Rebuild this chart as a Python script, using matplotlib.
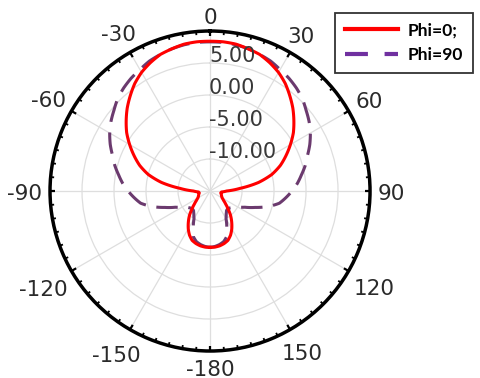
import numpy as np
import matplotlib
matplotlib.use('Agg')
import matplotlib.pyplot as plt
from matplotlib.lines import Line2D

# angles (deg) from 0 to 180, pattern is symmetric about 0
half_angles = list(range(0, 181, 5))
phi0_half = [8.4, 8.4, 8.3, 8.0, 7.7, 7.1, 6.4, 5.5, 4.4, 3.3, 2.1, 0.9, -0.5, -1.9,
             -3.3, -5.0, -7.3, -10.3, -12.4, -13.2, -13.3, -13.2, -13.1, -13.0, -12.8,
             -12.4, -11.8, -11.0, -10.0, -9.1, -8.2, -7.4, -6.8, -6.5, -6.3, -6.2, -6.2]
phi90_half = [8.3, 8.3, 8.2, 8.0, 7.7, 7.4, 6.9, 6.5, 6.0, 5.4, 4.6, 3.9, 3.1, 2.2,
              1.2, 0.4, -0.5, -1.3, -2.2, -3.1, -4.0, -5.6, -7.5, -9.0, -10.0, -10.6,
              -10.9, -11.1, -11.0, -10.6, -10.0, -8.8, -7.4, -6.8, -6.5, -6.3, -6.2]

labels = ['Phi=0;', 'Phi=90']
r_ticks = [-10, -5, 0, 5]
r_labels = ['-10.00', '-5.00', '0.00', '5.00']
theta_ticks = [0, 30, 60, 90, 120, 150, 180, 210, 240, 270, 300, 330]
theta_labels = ['0', '30', '60', '90', '120', '150', '-180', '-150', '-120', '-90', '-60', '-30']

# mirror the half pattern to cover the full circle
ang = np.array([-a for a in half_angles[::-1]] + half_angles[1:])
phi0 = np.array(phi0_half[::-1] + phi0_half[1:])
phi90 = np.array(phi90_half[::-1] + phi90_half[1:])

plt.rcParams['font.family'] = ['DejaVu Sans']

fig = plt.figure(figsize=(4.8, 3.78), dpi=100)
ax = fig.add_axes([0.1042, 0.0714, 0.6667, 0.8466], projection='polar')
ax.set_theta_zero_location('N')
ax.set_theta_direction(-1)
ax.set_rlim(-15, 10)

l90, = ax.plot(np.deg2rad(ang), phi90, color='#6b3a6e', lw=2.2, dashes=(7, 3.5))
l0, = ax.plot(np.deg2rad(ang), phi0, color='#ff0000', lw=2.2)
# draw segments as curves in polar space
for ln in (l90, l0):
    ln.get_path()._interpolation_steps = 8

ax.set_yticks(r_ticks)
ax.set_yticklabels([])
for r, lab in zip(r_ticks, r_labels):
    ax.annotate(lab, xy=(0, r), xytext=(-1, 1), textcoords='offset pixels',
                ha='left', va='baseline', fontsize=15, color='#383838')

ax.set_xticks(np.deg2rad(theta_ticks))
ax.set_xticklabels([])
ax.tick_params(axis='x', which='both', bottom=False, top=False)
ax.grid(True, color='#dedede', lw=0.9)
ax.spines['polar'].set_linewidth(2.5)
ax.spines['polar'].set_color('black')

# inward tick marks on the rim (matplotlib's polar ticks only point outwards)
rmax = ax.get_rmax()
minor = np.arange(0, 360, 5)
minor = minor[minor % 30 != 0]
ax.vlines(np.deg2rad(minor), rmax - 0.55, rmax, colors='black', lw=1.3, clip_on=False)
ax.vlines(np.deg2rad(theta_ticks), rmax - 0.85, rmax, colors='black', lw=1.6, clip_on=False)

# angle labels: sit a fixed gap outside the rim, pushed out by their own half size
fs = 15.5
em = fs * 100 / 72
for t, lab in zip(theta_ticks, theta_labels):
    ux, uy = np.sin(np.deg2rad(t)), np.cos(np.deg2rad(t))
    w = sum(0.361 if c == '-' else 0.636 for c in lab) * em
    h = 0.70 * em
    off = 8 + abs(ux) * w / 2 + abs(uy) * h / 2
    ax.annotate(lab, xy=(np.deg2rad(t), rmax), xytext=(ux * off, uy * off - 3),
                textcoords='offset pixels', ha='center', va='center',
                fontsize=fs, color='#2a2a2a', annotation_clip=False)

handles = [Line2D([], [], color='#ff0000', lw=3),
           Line2D([], [], color='#7030a0', lw=3, dashes=(5.5, 4))]
leg = fig.legend(handles, labels, loc='upper left', bbox_to_anchor=(335 / 480, 1 - 13 / 378),
                 frameon=True, fancybox=False, edgecolor='black', handlelength=3.1,
                 prop={'family': 'Lato', 'weight': 'bold', 'size': 12.5},
                 borderpad=0.55, labelspacing=0.5, handletextpad=0.55, borderaxespad=0)
leg.get_frame().set_linewidth(1.3)

fig.savefig('out.png', dpi=100)
